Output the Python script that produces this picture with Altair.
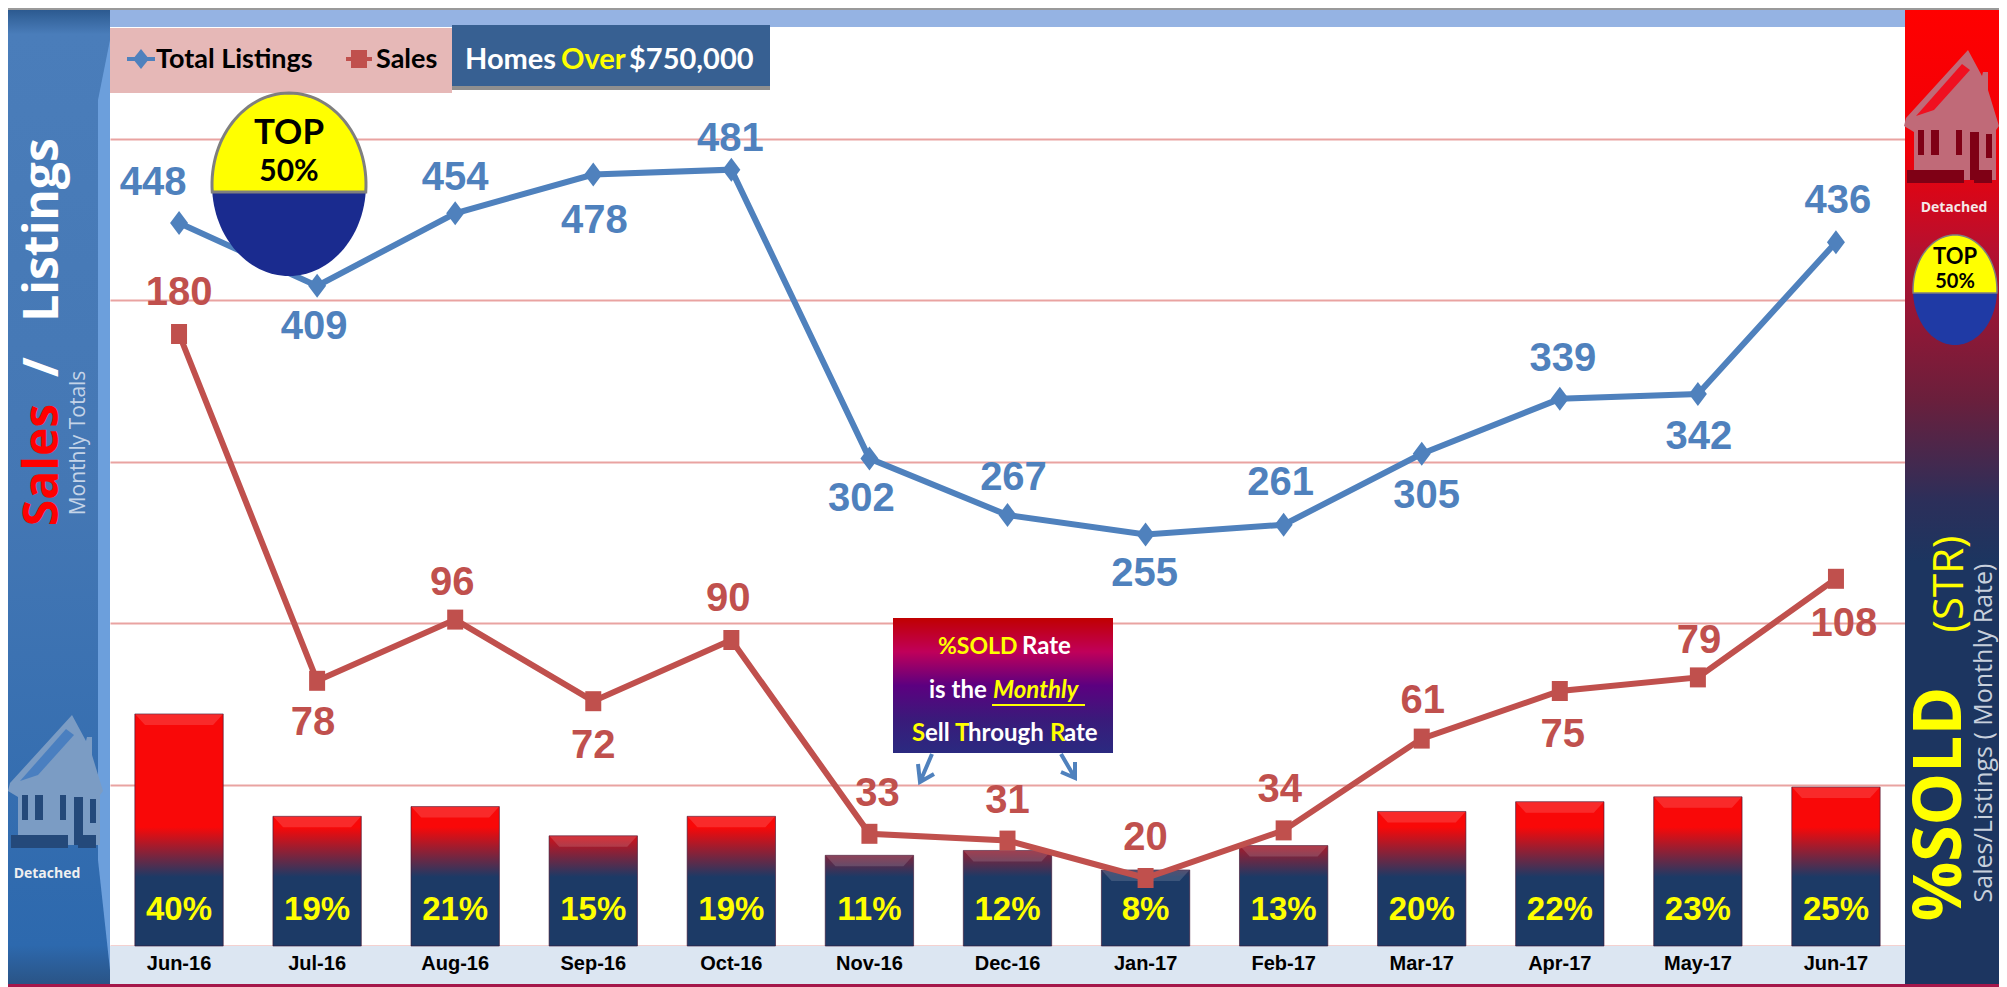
import math
import altair as alt
import pandas as pd

months = ["Jun-16","Jul-16","Aug-16","Sep-16","Oct-16","Nov-16","Dec-16","Jan-17","Feb-17","Mar-17","Apr-17","May-17","Jun-17"]
listings = [448,409,454,478,481,302,267,255,261,305,339,342,436]
sales = [180,78,96,72,90,33,31,20,34,61,75,79,108]
rates = [40,19,21,15,19,11,12,8,13,20,22,23,25]

# label offsets (dx, dy) kept apart from the data
list_off = [(-26,-40),(-3,41),(0,-35),(1,46),(-1,-31),(-8,40),(6,-37),(-1,40),(-3,-42),(5,42),(3,-40),(1,43),(2,-41)]
sale_off = [(0,-41),(-4,42),(-3,-37),(0,45),(-3,-41),(8,-40),(0,-40),(0,-40),(-4,-40),(1,-38),(3,44),(1,-36),(8,45)]

PX0, PY0, PW, PH = 110, 139, 1795, 807
BLUE, RED = "#4f81bd", "#c0504d"
SANS = "Liberation Sans"
OPEN = "Open Sans"
LATO = "Lato"

df = pd.DataFrame({"month": months, "listings": listings, "sales": sales, "rate": rates})
df["rate_label"] = [f"{r}%" for r in rates]

x_plain = alt.X("month:N", sort=months, axis=None,
                scale=alt.Scale(domain=months, paddingInner=0.36, paddingOuter=0.18))
y_list_scale = alt.Scale(domain=[0, 500])
y_sale_scale = alt.Scale(domain=[0, 237.35])
y_rate_scale = alt.Scale(domain=[-7.6, 157.95])


def one():
    return alt.Chart(alt.Data(values=[{"_": 0}]))


def grad(stops):
    return {"gradient": "linear", "x1": 0, "y1": 0, "x2": 0, "y2": 1,
            "stops": [{"offset": o, "color": c} for o, c in stops]}


def rect(x0, y0, x1, y1, fill):
    return one().mark_rect(color=fill, opacity=1).encode(
        x=alt.value(x0 - PX0), x2=alt.value(x1 - PX0),
        y=alt.value(y0 - PY0), y2=alt.value(y1 - PY0))


def shape(d, x, y, fill=None, stroke=None, sw=1):
    kw = {}
    if fill is not None:
        kw["fill"] = fill
    if stroke is not None:
        kw["stroke"] = stroke
        kw["strokeWidth"] = sw
    return one().mark_point(shape=d, size=4, filled=fill is not None, opacity=1, **kw).encode(
        x=alt.value(x - PX0), y=alt.value(y - PY0))


def text(s, x, y, size, color, font=OPEN, weight="normal", align="center", angle=0, style="normal"):
    return one().mark_text(text=s, fontSize=size, color=color, font=font, fontWeight=weight,
                           align=align, baseline="middle", angle=angle, fontStyle=style).encode(
        x=alt.value(x - PX0), y=alt.value(y - PY0))


def ell_half(rx, ry, split, top):
    a = math.asin(split / ry)
    if top:
        t0, t1 = math.pi - a, 2 * math.pi + a
    else:
        t0, t1 = a, math.pi - a
    pts = []
    for i in range(61):
        t = t0 + (t1 - t0) * i / 60
        pts.append((rx * math.cos(t), ry * math.sin(t)))
    return "M" + "L".join(f"{p[0]:.2f} {p[1]:.2f}" for p in pts) + "Z"


def badge(cx, cy, rx, ry, split, sw, low):
    return [
        shape(ell_half(rx, ry, split, False), cx, cy, fill=low),
        shape(ell_half(rx, ry, split, True), cx, cy, fill="#ffff00", stroke="#7f7f7f", sw=sw),
    ]


HOUSE_MAIN = "M64 0L2 68L0 76L10 82L10 130L92 130L92 80L95 76L84 40L84 22L79 22L78 26Z"
HOUSE_DARK = ("M3 120H60V133H3ZM70 120H88V133H70Z"
              "M14 80H20V105H14ZM27 80H35V105H27ZM52 80H58V105H52ZM66 82H75V130H66ZM82 84H88V108H82Z")
HOUSE_PANEL = "M58 14L12 66L30 60L66 20Z"


def house(x, y, main, dark, panel):
    return [shape(HOUSE_MAIN, x, y, fill=main), shape(HOUSE_DARK, x, y, fill=dark),
            shape(HOUSE_PANEL, x, y, fill=panel)]


layers = []

# ---- panels
layers += [
    rect(8, 8, 1999, 10, "#9a9a9a"),
    rect(110, 10, 1905, 27, "#95b3e3"),
    rect(110, 946, 1905, 984, "#dce6f2"),
    rect(8, 10, 110, 984, grad([(0, "#2c5a90"), (0.025, "#4a7dba"), (0.5, "#4477b4"),
                                (0.96, "#2d69ae"), (1, "#2a5486")])),
    shape("M0 0L12 -60L12 870L0 760Z", 98, 100, fill="#6c9fdc"),
    rect(1905, 10, 1999, 984, grad([(0, "#ff0000"), (0.145, "#f00008"), (0.248, "#b51030"),
                                    (0.40, "#6a1f3c"), (0.504, "#2c2f5a"), (0.566, "#1c3560"), (1, "#1c3560")])),
    rect(8, 984, 1999, 987, "#a5174a"),
    rect(110, 28, 452, 93, "#e6b8b7"),
    rect(452, 28, 770, 90, "#8f8f8f"),
    rect(452, 25, 770, 86, "#376092"),
]

# ---- side panel text and icons
layers += house(8, 715, "#7b9cc4", "#24497a", "#4a7fc0")
layers += [
    text("Detached", 47, 874, 14, "#f0f0f0", weight="bold"),
    text("Listings", 44, 230, 48, "#ffffff", weight="bold", angle=270),
    text("/", 44, 367, 48, "#ffffff", weight="bold", angle=270),
    text("Sales", 44, 465, 48, "#ff0000", weight="bold", angle=270),
    text("Monthly Totals", 79, 443, 21, "#c4d4e8", angle=270),
]
layers += house(1904, 50, "#c06a78", "#7f0015", "#f01020")
layers += [text("Detached", 1954, 208, 14, "#f4e8e8", weight="bold")]
layers += badge(1955, 290, 42, 55, 3, 1.5, "#1f3aa5")
layers += [
    text("TOP", 1955, 257, 22, "#000000", font=LATO, weight="bold"),
    text("50%", 1955, 282, 20, "#000000", font=LATO, weight="bold"),
    text("%SOLD", 1941, 804, 66, "#ffff00", weight="bold", angle=270),
    text("(STR)", 1950, 584, 42, "#ffff00", angle=270),
    text("Sales/Listings  ( Monthly Rate)", 1984, 733, 25, "#c8d0dc", angle=270),
]

# ---- legend and banner
layers += [
    rect(127, 57, 155, 61, BLUE),
    shape("M0 -10L8 0L0 10L-8 0Z", 141, 59, fill=BLUE),
    text("Total Listings", 156, 60, 27, "#000000", font=LATO, weight="bold", align="left"),
    rect(346, 57, 372, 61, RED),
    shape("M-8 -9H8V9H-8Z", 359, 59, fill=RED),
    text("Sales", 376, 60, 27, "#000000", font=LATO, weight="bold", align="left"),
    text("Homes", 465, 60, 29, "#ffffff", font=LATO, weight="bold", align="left"),
    text("Over", 561, 60, 29, "#ffff00", font=LATO, weight="bold", align="left"),
    text("$750,000", 629, 60, 29, "#ffffff", font=LATO, weight="bold", align="left"),
]

# ---- bars: colour runs navy-to-red at a fixed height on the page
NAVY_Y, RED_Y = 877, 827
NAVY, BRED = (0x1c, 0x3a, 0x66), (0xf9, 0x08, 0x08)
for i, r in enumerate(rates):
    top = 909 - 4.875 * r
    h = 946 - top
    stops = []
    if top < RED_Y:
        stops += [(0, "#f90808"), ((RED_Y - top) / h, "#f90808")]
    else:
        f = max(0, (NAVY_Y - top) / (NAVY_Y - RED_Y))
        c = tuple(round(NAVY[k] + (BRED[k] - NAVY[k]) * f) for k in range(3))
        stops += [(0, "#%02x%02x%02x" % c)]
    stops += [(min(1, max(0.01, (NAVY_Y - top) / h)), "#1c3a66"), (1, "#1c3a66")]
    layers.append(
        alt.Chart(df.iloc[[i]]).mark_bar(color=grad(stops), stroke="#3a1030", strokeWidth=1, strokeOpacity=0.6).encode(
            x=x_plain, y=alt.Y("rate:Q", scale=y_rate_scale, axis=None, stack=None), y2=alt.value(PH)))

layers.append(
    alt.Chart(df).mark_point(shape="M-44 0L44 0L34 11L-34 11Z", size=4, filled=True,
                             fill="#ffffff", opacity=0.14).encode(
        x=x_plain, y=alt.Y("rate:Q", scale=y_rate_scale, axis=None)))
layers.append(
    alt.Chart(df).mark_text(font=SANS, fontWeight="bold", fontSize=33, color="#ffff00", baseline="middle").encode(
        x=x_plain, y=alt.value(910 - PY0), text="rate_label:N"))
layers.append(
    alt.Chart(df).mark_text(font=SANS, fontWeight="bold", fontSize=20, color="#000000", baseline="middle").encode(
        x=x_plain, y=alt.value(964 - PY0), text="month:N"))

# ---- lines
layers += [
    alt.Chart(df).mark_line(color=BLUE, strokeWidth=6).encode(
        x=x_plain,
        y=alt.Y("listings:Q", scale=y_list_scale,
                axis=alt.Axis(title=None, labels=False, ticks=False, domain=False, grid=True,
                              values=[0, 100, 200, 300, 400, 500], gridColor="#e9a3a1", gridWidth=2))),
    alt.Chart(df).mark_point(shape="M0 -12L9 0L0 12L-9 0Z", size=4, filled=True, fill=BLUE, opacity=1).encode(
        x=x_plain, y=alt.Y("listings:Q", scale=y_list_scale, axis=None)),
    alt.Chart(df).mark_line(color=RED, strokeWidth=6).encode(
        x=x_plain, y=alt.Y("sales:Q", scale=y_sale_scale, axis=None)),
    alt.Chart(df).mark_point(shape="M-8 -10H8V10H-8Z", size=4, filled=True, fill=RED, opacity=1).encode(
        x=x_plain, y=alt.Y("sales:Q", scale=y_sale_scale, axis=None)),
]

# ---- value labels
for i in range(len(months)):
    dx, dy = list_off[i]
    layers.append(alt.Chart(df.iloc[[i]]).mark_text(
        font=SANS, fontWeight="bold", fontSize=40, color=BLUE, baseline="middle", dx=dx, dy=dy).encode(
        x=x_plain, y=alt.Y("listings:Q", scale=y_list_scale, axis=None), text="listings:Q"))
    dx, dy = sale_off[i]
    layers.append(alt.Chart(df.iloc[[i]]).mark_text(
        font=SANS, fontWeight="bold", fontSize=40, color=RED, baseline="middle", dx=dx, dy=dy).encode(
        x=x_plain, y=alt.Y("sales:Q", scale=y_sale_scale, axis=None), text="sales:Q"))

# ---- callout
layers += [
    rect(893, 618, 1113, 753, grad([(0, "#c00000"), (0.25, "#c0005a"), (0.5, "#5c0080"),
                                    (0.75, "#3a1a7a"), (1, "#2a2a80")])),
    text("%SOLD", 938, 647, 23, "#ffff00", font=LATO, weight="bold", align="left"),
    text("Rate", 1022, 647, 24, "#ffffff", font=LATO, weight="bold", align="left"),
    text("is the", 929, 691, 24, "#ffffff", font=LATO, weight="bold", align="left"),
    text("Monthly", 993, 691, 24, "#ffff00", font=LATO, weight="bold", align="left", style="italic"),
    rect(992, 704, 1085, 706, "#ffff00"),
    text("S", 912, 734, 24, "#ffff00", font=LATO, weight="bold", align="left"),
    text("ell", 925, 734, 24, "#ffffff", font=LATO, weight="bold", align="left"),
    text("T", 955, 734, 24, "#ffff00", font=LATO, weight="bold", align="left"),
    text("hrough", 968, 734, 24, "#ffffff", font=LATO, weight="bold", align="left"),
    text("R", 1050, 734, 24, "#ffff00", font=LATO, weight="bold", align="left"),
    text("ate", 1064, 734, 24, "#ffffff", font=LATO, weight="bold", align="left"),
    shape("M12 0L0 28M-2 10L0 28L14 20", 920, 754, stroke=BLUE, sw=4),
    shape("M0 0L14 24M14 8L14 24L0 18", 1061, 754, stroke=BLUE, sw=4),
]

# ---- badge
layers += badge(289, 184.5, 77, 91.5, 7.5, 3, "#1a2b8f")
layers += [
    text("TOP", 289, 133, 35, "#000000", font=LATO, weight="bold"),
    text("50%", 289, 172, 30, "#000000", font=LATO, weight="bold"),
]

chart = alt.layer(*layers).resolve_scale(y="independent").properties(
    width=PW, height=PH,
    padding={"left": 102, "top": 131, "right": 94, "bottom": 41},
    autosize=alt.AutoSizeParams(type="none"),
    background="white",
).configure_view(stroke=None)

chart.save("out.html", embed_options={"renderer": "svg", "actions": False})
